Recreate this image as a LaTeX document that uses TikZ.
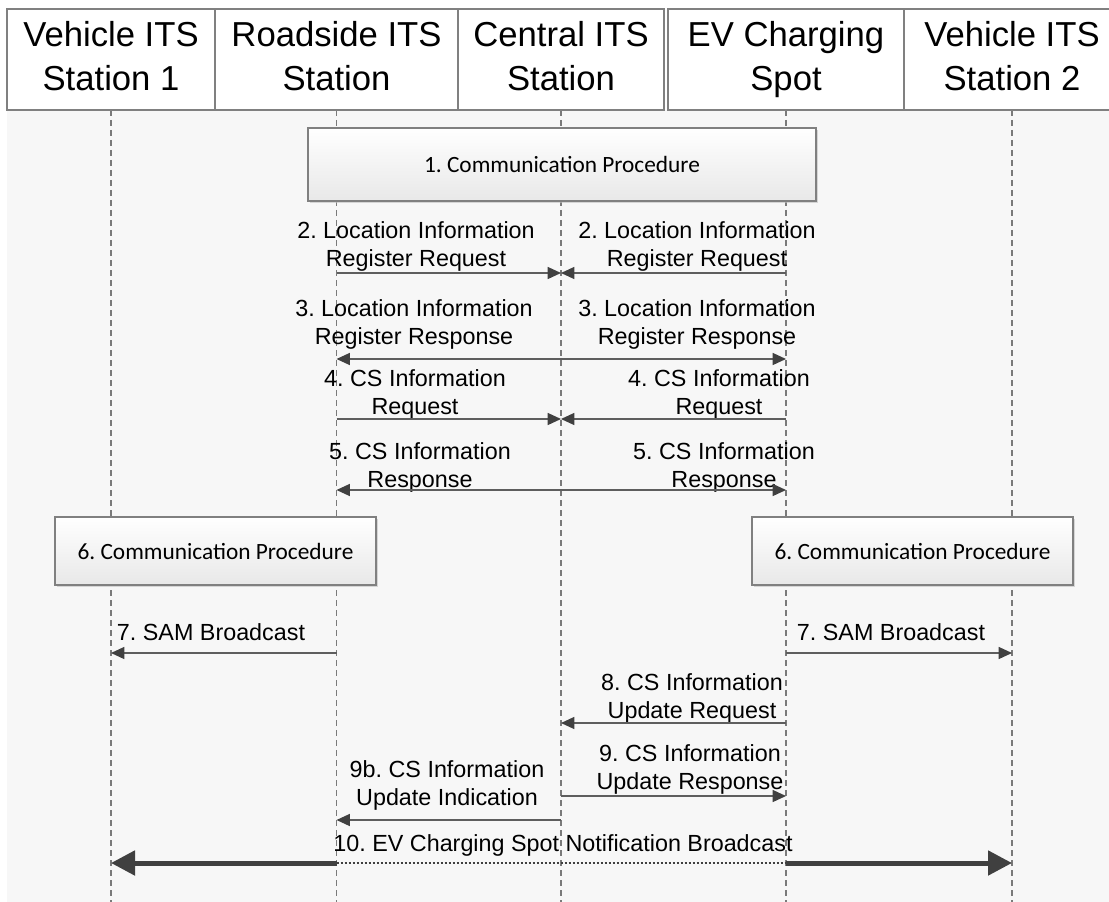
\documentclass[tikz,border=0pt]{standalone}
\usepackage{fontspec}
\setmainfont{Liberation Sans}
\newfontfamily\boxfont{Carlito}
\usetikzlibrary{arrows.meta,shadows}
\frenchspacing
\definecolor{bggray}{HTML}{F7F7F7}
\definecolor{framegray}{HTML}{808080}
\definecolor{lifegray}{HTML}{7A7A7A}
\definecolor{linegray}{HTML}{5E5E5E}
\definecolor{headgray}{HTML}{404040}
\definecolor{boxbottom}{HTML}{E8E8E8}
\tikzset{
  hdr/.style={draw=framegray, line width=1pt, fill=white, inner sep=0pt, outer sep=0pt,
    minimum height=75.75pt, align=center, font=\fontsize{26}{33}\selectfont},
  life/.style={draw=lifegray, line width=0.8pt, dash pattern=on 4.5pt off 3pt},
  proc/.style={draw=framegray, line width=0.9pt, top color=white, bottom color=boxbottom,
    inner sep=0pt, font=\boxfont\fontsize{17.5}{21}\selectfont,
    drop shadow={shadow xshift=1.2pt, shadow yshift=-1.2pt, fill=black!25, opacity=0.6}},
  msg/.style={draw=linegray, line width=1pt,
    -{Triangle[length=10pt, width=9pt, color=headgray]}},
  bigmsg/.style={draw=headgray, line width=3.75pt,
    -{Triangle[length=18pt, width=18pt, color=headgray]}},
  dotmsg/.style={draw=headgray, line width=1.5pt, dash pattern=on 1.5pt off 1.5pt},
  lbl/.style={inner sep=0pt, align=center, font=\fontsize{17.5}{21}\selectfont}
}
\begin{document}
\begin{tikzpicture}[x=0.75pt, y=-0.75pt]
\useasboundingbox (0,0) rectangle (1109,902);
% canvas below the header row
\fill[bggray] (7,110) rectangle (1109,902);

% lifeline bottoms
\foreach \l/\x in {v1/111, rs/336.5, cs/561, ev/786, v2/1012}
  \coordinate (\l-end) at (\x,902);

% lifelines (drawn first, so the boxes sit on top)
\foreach \l/\x in {v1/111, rs/336.5, cs/561, ev/786, v2/1012}
  \draw[life] (\x,110) -- (\l-end);

% header row (struts keep both text lines on the same baselines)
\node[hdr, minimum width=156pt]    (v1) at (111,59.5)   {\strut Vehicle ITS\\\strut Station 1};
\node[hdr, minimum width=182.25pt] (rs) at (336.5,59.5) {\strut Roadside ITS\\\strut Station};
\node[hdr, minimum width=154.5pt]  (cs) at (561,59.5)   {\strut Central ITS\\\strut Station};
\node[hdr, minimum width=177pt]    (ev) at (786,59.5)   {\strut EV Charging\\\strut Spot};
\node[hdr, minimum width=162pt]    (v2) at (1012,59.5)  {\strut Vehicle ITS\\\strut Station 2};

% message rows on every lifeline
\foreach \n/\y in {r2/273, r3/359, r4/419, r5/490, r7/653, r8/723, r9/796, r9b/820, r10/863}
  \foreach \l/\x in {v1/111, rs/336.5, cs/561, ev/786, v2/1012}
    \coordinate (\l-\n) at (\x,\y);

% procedure boxes
\node[proc, minimum width=381pt, minimum height=54.75pt] (p1) at (562,164.5) {1. Communication Procedure};
\node[proc, minimum width=240.75pt, minimum height=51pt] (p6a) at (215.5,551) {6. Communication Procedure};
\node[proc, minimum width=240.75pt, minimum height=51pt] (p6b) at (912.5,551) {6. Communication Procedure};

% 2. register requests
\node[lbl] (l2a) at (416,246) {2. Location Information\\Register Request};
\node[lbl] (l2b) at (697,246) {2. Location Information\\Register Request};
\draw[msg] (rs-r2) -- (cs-r2);
\draw[msg] (ev-r2) -- (cs-r2);

% 3. register responses
\node[lbl] (l3a) at (414,324) {3. Location Information\\Register Response};
\node[lbl] (l3b) at (697,324) {3. Location Information\\Register Response};
\draw[msg] (cs-r3) -- (rs-r3);
\draw[msg] (cs-r3) -- (ev-r3);

% 4. CS information requests
\node[lbl] (l4a) at (415,394) {4. CS Information\\Request};
\node[lbl] (l4b) at (719,394) {4. CS Information\\Request};
\draw[msg] (rs-r4) -- (cs-r4);
\draw[msg] (ev-r4) -- (cs-r4);

% 5. CS information responses
\node[lbl] (l5a) at (420,467) {5. CS Information\\Response};
\node[lbl] (l5b) at (724,467) {5. CS Information\\Response};
\draw[msg] (cs-r5) -- (rs-r5);
\draw[msg] (cs-r5) -- (ev-r5);

% 7. SAM broadcasts
\node[lbl] (l7a) at (211,632) {7. SAM Broadcast};
\node[lbl] (l7b) at (891,632) {7. SAM Broadcast};
\draw[msg] (rs-r7) -- (v1-r7);
\draw[msg] (ev-r7) -- (v2-r7);

% 8. update request
\node[lbl] (l8) at (692,698) {8. CS Information\\Update Request};
\draw[msg] (ev-r8) -- (cs-r8);

% 9. update response
\node[lbl] (l9) at (690,769) {9. CS Information\\Update Response};
\draw[msg] (cs-r9) -- (ev-r9);

% 9b. update indication
\node[lbl] (l9b) at (447,785) {9b. CS Information\\Update Indication};
\draw[msg] (cs-r9b) -- (rs-r9b);

% 10. notification broadcast
\node[lbl] (l10) at (563,845) {10. EV Charging Spot Notification Broadcast};
\draw[dotmsg] (rs-r10) -- (ev-r10);
\draw[bigmsg] (rs-r10) -- (v1-r10);
\draw[bigmsg] (ev-r10) -- (v2-r10);
\end{tikzpicture}
\end{document}
